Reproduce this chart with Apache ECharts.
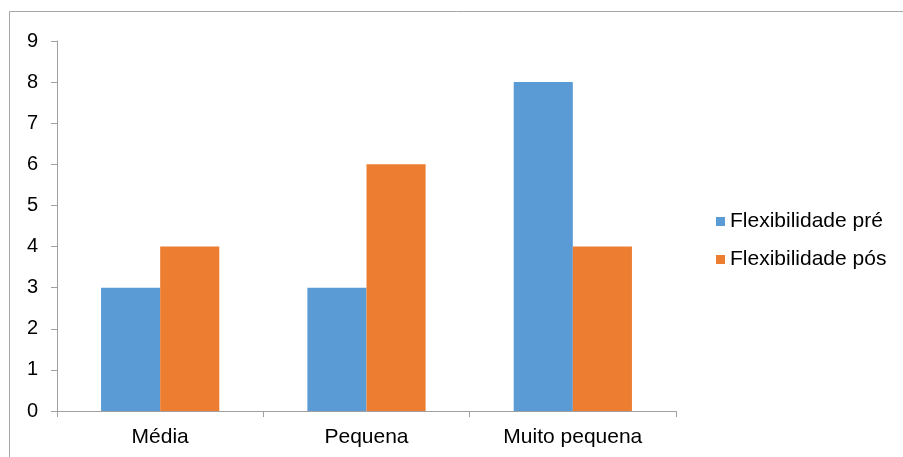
<!DOCTYPE html>
<html><head><meta charset="utf-8">
<script src="https://cdn.jsdelivr.net/npm/echarts@6/dist/echarts.min.js"></script>
<style>html,body{margin:0;padding:0;background:#fff}#c{width:903px;height:457px}</style>
</head><body><div id="c"></div>
<script>
const categories = ['Média', 'Pequena', 'Muito pequena'];
const seriesNames = ['Flexibilidade pré', 'Flexibilidade pós'];
const preValues = [3, 3, 8];
const posValues = [4, 6, 4];
const yTicks = [0, 1, 2, 3, 4, 5, 6, 7, 8, 9];

const chart = echarts.init(document.getElementById('c'), null, {renderer: 'canvas'});
const font = 'Liberation Sans, Arial, sans-serif';
chart.setOption({
  animation: false,
  graphic: [{
    type: 'polyline', silent: true,
    shape: {points: [[9.5, 470], [9.5, 11.5], [910, 11.5]]},
    style: {stroke: '#a6a6a6', lineWidth: 1, fill: null}
  }],
  grid: {left: 57, top: 41, right: 227, bottom: 46},
  legend: {
    orient: 'vertical', left: 716, top: 211, padding: 0, itemWidth: 9, itemHeight: 9, itemGap: 17,
    icon: 'rect',
    textStyle: {fontFamily: font, fontSize: 21, color: '#000'},
    data: seriesNames
  },
  xAxis: {
    type: 'category', data: categories,
    axisLine: {lineStyle: {color: '#a0a0a0'}},
    axisTick: {show: true, length: 6, lineStyle: {color: '#a0a0a0'}},
    axisLabel: {fontFamily: font, fontSize: 21, color: '#000', margin: 16}
  },
  yAxis: {
    type: 'value', min: yTicks[0], max: yTicks[yTicks.length - 1], interval: 1,
    axisLine: {show: true, lineStyle: {color: '#a0a0a0'}},
    axisTick: {show: true, length: 6, lineStyle: {color: '#a0a0a0'}},
    splitLine: {show: false},
    axisLabel: {fontFamily: font, fontSize: 20, color: '#000', margin: 19}
  },
  series: [
    {name: seriesNames[0], type: 'bar', data: preValues, itemStyle: {color: '#5B9BD5'}, barGap: '0%', barCategoryGap: '42.7%'},
    {name: seriesNames[1], type: 'bar', data: posValues, itemStyle: {color: '#ED7D31'}, barGap: '0%', barCategoryGap: '42.7%'}
  ]
});
</script></body></html>
